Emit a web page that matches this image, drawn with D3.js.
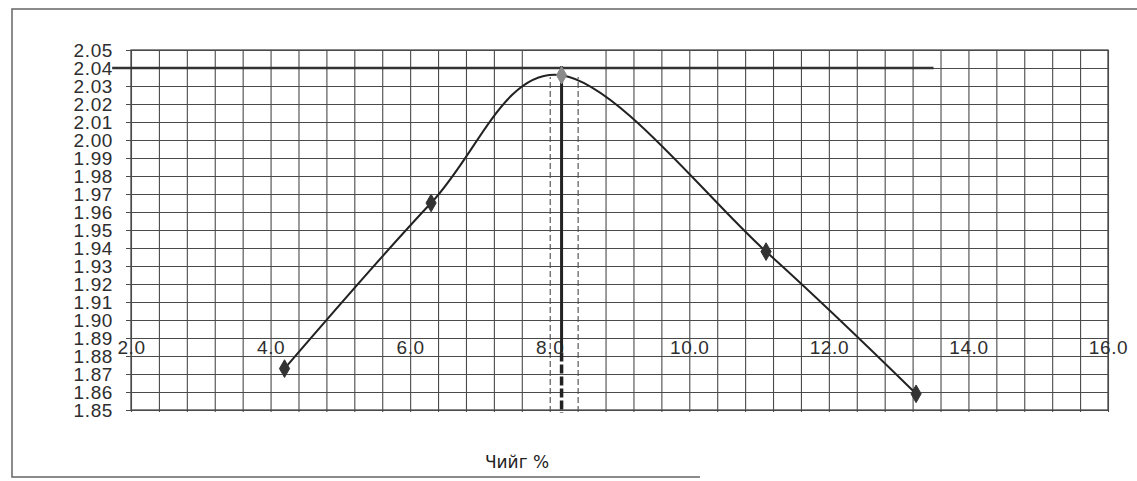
<!DOCTYPE html>
<html>
<head>
<meta charset="utf-8">
<script src="https://cdn.jsdelivr.net/npm/d3@7"></script>
<style>
  html, body { margin: 0; padding: 0; background: #fff; }
  svg { display: block; }
</style>
</head>
<body>
<svg id="chart" width="1137" height="481"></svg>
<script>
// ---- data ----
const moisture = [4.2, 6.3, 8.17, 11.1, 13.25];          // Чийг %
const density  = [1.873, 1.965, 2.036, 1.938, 1.859];     // dry density
const xLabelTicks = [2, 4, 6, 8, 10, 12, 14, 16];
const yTicks = d3.range(0, 21).map(i => +(1.85 + i * 0.01).toFixed(2));
const xGridTicks = d3.range(0, 36).map(i => +(2 + i * 0.4).toFixed(1));
const maxDensityLine = [1.73, 13.5];   // x-extent of the 2.04 reference line
const maxDensityValue = 2.04;
const optMoisture = 8.17;
const optLineTop = 2.041;
const xAxisCross = 1.89;
const xTitle = "Чийг %";

// ---- layout ----
const svg = d3.select("#chart");
const x = d3.scaleLinear().domain([2, 16]).range([131, 1108]);
const y = d3.scaleLinear().domain([1.85, 2.05]).range([410, 50]);
const gridColor = "#4a4a4a";
const labelFont = "'Liberation Sans', Arial, sans-serif";

// outer frame
svg.append("path")
  .attr("d", "M1137,9 L12,9 L12,477 L700,477")
  .attr("fill", "none").attr("stroke", "#666").attr("stroke-width", 1.5);

// vertical grid lines
const xg = svg.append("g").attr("transform", `translate(0,${y(1.85)})`)
  .call(d3.axisBottom(x).tickValues(xGridTicks).tickSize(-(y(1.85) - y(2.05))).tickSizeOuter(0).tickFormat(""));
xg.select(".domain").remove();
xg.selectAll(".tick line")
  .attr("stroke", gridColor).attr("stroke-width", 1.1)
  .attr("y1", 2)
  .attr("stroke-dasharray", d => (d === 8 || d === 8.4) ? "6,3" : null)
  .attr("y2", d => (d === 8 || d === 8.4) ? -(y(1.85) - y(2.035)) : -(y(1.85) - y(2.05)));

// horizontal grid + y labels
const yg = svg.append("g").attr("transform", `translate(126,0)`)
  .call(d3.axisLeft(y).tickValues(yTicks).tickSize(-(1108 - 126)).tickPadding(13).tickFormat(d3.format(".2f")));
yg.select(".domain").remove();
yg.selectAll(".tick line").attr("stroke", gridColor).attr("stroke-width", 1.1);
yg.selectAll(".tick text")
  .attr("font-family", labelFont).attr("font-size", 19).attr("letter-spacing", 0.6)
  .attr("fill", "#2e2e2e");

// plot border
svg.append("rect")
  .attr("x", x(2)).attr("y", y(2.05))
  .attr("width", x(16) - x(2)).attr("height", y(1.85) - y(2.05))
  .attr("fill", "none").attr("stroke", gridColor).attr("stroke-width", 1.3);

// x labels (axis crossing at 1.89)
const xa = svg.append("g").attr("transform", `translate(0,${y(xAxisCross)})`)
  .call(d3.axisBottom(x).tickValues(xLabelTicks).tickSize(0).tickPadding(2).tickFormat(d3.format(".1f")));
xa.select(".domain").remove();
xa.selectAll(".tick text")
  .attr("font-family", labelFont).attr("font-size", 19).attr("letter-spacing", 0.6)
  .attr("fill", "#2e2e2e");

// max density reference line
svg.append("line")
  .attr("x1", x(maxDensityLine[0])).attr("x2", x(maxDensityLine[1]))
  .attr("y1", y(maxDensityValue)).attr("y2", y(maxDensityValue))
  .attr("stroke", "#333").attr("stroke-width", 2.6);

// optimum moisture vertical line
svg.append("line")
  .attr("x1", x(optMoisture)).attr("x2", x(optMoisture))
  .attr("y1", y(optLineTop)).attr("y2", y(1.882))
  .attr("stroke", "#222").attr("stroke-width", 3);
svg.append("line")
  .attr("x1", x(optMoisture)).attr("x2", x(optMoisture))
  .attr("y1", y(1.882)).attr("y2", y(1.85) + 3)
  .attr("stroke", "#222").attr("stroke-width", 3.5)
  .attr("stroke-dasharray", "9,3");

// compaction curve
const pts = moisture.map((m, i) => [m, density[i]]);
svg.append("path")
  .datum(pts)
  .attr("d", d3.line().x(d => x(d[0])).y(d => y(d[1])).curve(d3.curveCatmullRom.alpha(0)))
  .attr("fill", "none").attr("stroke", "#222").attr("stroke-width", 2);

// markers
svg.selectAll("path.marker")
  .data(pts)
  .join("path")
  .attr("class", "marker")
  .attr("transform", d => `translate(${x(d[0])},${y(d[1])})`)
  .attr("d", d3.symbol().type(d3.symbolDiamond).size(90))
  .attr("fill", (d, i) => i === 2 ? "#8a8a8a" : "#333")
  .attr("stroke", (d, i) => i === 2 ? "#8a8a8a" : "#333");

// axis title
svg.append("text")
  .attr("x", 517).attr("y", 468)
  .attr("text-anchor", "middle")
  .attr("font-family", "'DejaVu Sans', sans-serif")
  .attr("font-size", 17)
  .attr("fill", "#222")
  .text(xTitle);
</script>
</body>
</html>
